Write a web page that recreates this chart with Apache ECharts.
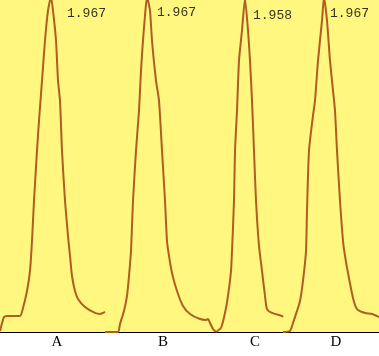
<!DOCTYPE html>
<html>
<head>
<meta charset="utf-8">
<script src="https://cdn.jsdelivr.net/npm/echarts@6/dist/echarts.min.js"></script>
<style>html,body{margin:0;padding:0;background:#fff}#c{width:379px;height:356px}</style>
</head>
<body>
<div id="c"></div>
<script>
// Category labels and their positions along the x scale
const categories = ['A', 'B', 'C', 'D'];
const categoryPos = [57, 163, 255, 336];

// Peak values (labels) and where the peaks lie
const peakLabels = ['1.967', '1.967', '1.958', '1.967'];
const peakX = [51, 147, 245, 324];
const peakY = [1.967, 1.967, 1.958, 1.967];

// Trace of each peak: [x, signal]
const peakA = [[0,0.006],[4,0.088],[7,0.094],[20,0.094],[23,0.141],[27,0.241],[30,0.359],[32,0.535],[34,0.771],[37,1.065],[39,1.241],[42,1.476],[45,1.712],[48,1.888],[51,1.967],[53,1.888],[56,1.712],[58,1.476],[60,1.359],[62,1.065],[65,0.771],[68,0.565],[70,0.447],[72,0.329],[75,0.241],[78,0.194],[85,0.147],[95,0.112],[100,0.106],[103,0.112],[105,0.118]];
const peakB = [[105,0],[118,0],[120,0.047],[124,0.124],[127,0.212],[129,0.329],[131,0.476],[133,0.771],[136,1.065],[139,1.300],[141,1.535],[143,1.712],[145,1.859],[147,1.967],[150,1.888],[152,1.712],[156,1.476],[159,1.359],[162,1.065],[165,0.771],[167,0.535],[169,0.447],[172,0.347],[177,0.241],[183,0.153],[190,0.106],[200,0.076],[206,0.071],[208,0.076],[210,0.053],[213,0.018],[216,0]];
const peakC = [[216,0],[221,0.024],[225,0.112],[228,0.212],[231,0.359],[232,0.476],[234,0.771],[235,1.065],[237,1.300],[239,1.594],[242,1.771],[245,1.958],[248,1.771],[250,1.594],[252,1.359],[254,1.065],[256,0.771],[259,0.506],[262,0.359],[265,0.212],[267,0.135],[272,0.112],[282,0.094],[283,0.088]];
const peakD = [[283,0],[290,0.006],[293,0.053],[297,0.124],[300,0.182],[303,0.300],[306,0.476],[307,0.712],[309,1.065],[313,1.271],[315,1.359],[318,1.594],[322,1.829],[324,1.967],[327,1.829],[330,1.594],[333,1.418],[335,1.300],[337,1.065],[340,0.771],[343,0.535],[345,0.447],[348,0.347],[353,0.200],[357,0.135],[365,0.112],[372,0.106],[379,0.088]];

const labelOffsets = [[16,16],[10,15],[8,17],[6,16]];
const lineColor = '#AE5E22';

const chart = echarts.init(document.getElementById('c'), null, {renderer: 'canvas'});
const traces = [peakA, peakB, peakC, peakD];
const series = traces.map(d => ({
  type: 'line', data: d, showSymbol: false, smooth: 0.2,
  lineStyle: {color: lineColor, width: 2}, animation: false, silent: true
}));
series.push({
  type: 'scatter', clip: false, symbolSize: 0, animation: false, silent: true,
  data: peakX.map((x, i) => ({
    value: [x, peakY[i]],
    label: {show: true, position: 'right', distance: 0, offset: labelOffsets[i],
            formatter: peakLabels[i], color: '#000', fontFamily: 'Liberation Mono', fontSize: 13}
  }))
});

chart.setOption({
  backgroundColor: '#ffffff',
  grid: {left: 0, right: 0, top: 0, bottom: 24, show: true, backgroundColor: '#FFF77F', borderWidth: 0},
  xAxis: {
    type: 'value', min: 0, max: 379,
    splitLine: {show: false},
    axisLine: {show: true, lineStyle: {color: '#000', width: 1}},
    axisTick: {show: false},
    axisLabel: {
      customValues: categoryPos,
      formatter: v => categories[categoryPos.indexOf(v)] || '',
      color: '#000', fontFamily: 'Liberation Serif', fontSize: 15, margin: 3
    }
  },
  yAxis: {
    type: 'value', min: 0, max: 1.95, show: false, splitLine: {show: false}
  },
  series: series
});
</script>
</body>
</html>
